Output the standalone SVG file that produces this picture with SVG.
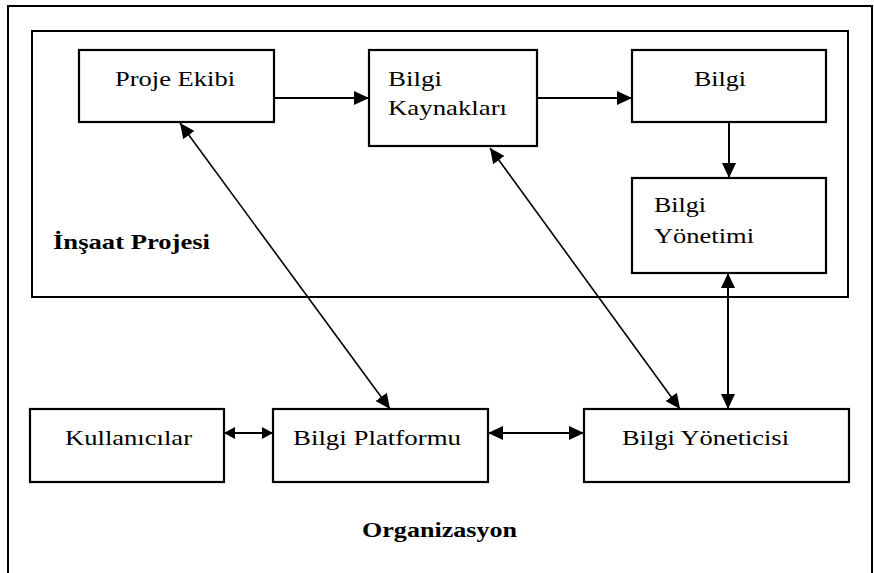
<svg xmlns="http://www.w3.org/2000/svg" width="874" height="573" viewBox="0 0 874 573">
<style>
.frame{fill:none;stroke:#000;stroke-width:2}
.box{fill:#fff;stroke:#000;stroke-width:2.2}
.t{font-family:"Liberation Serif","Times New Roman",serif;font-size:21px;fill:#000}
.b{font-family:"Liberation Serif","Times New Roman",serif;font-size:22px;font-weight:bold;fill:#000}
.c{fill:none;stroke:#000;stroke-width:2}
.d{fill:none;stroke:#000;stroke-width:1.6}
</style>
<defs>
<marker id="ah" markerUnits="userSpaceOnUse" markerWidth="16" markerHeight="14" refX="15" refY="7" orient="auto-start-reverse">
<path d="M0,0 L15,7 L0,14 z" fill="#000"/>
</marker>
<marker id="ahs" markerUnits="userSpaceOnUse" markerWidth="12" markerHeight="12" refX="11" refY="6" orient="auto-start-reverse">
<path d="M0,0 L11,6 L0,12 z" fill="#000"/>
</marker>
</defs>
<rect id="organizasyon-frame" class="frame" x="8" y="6" width="864" height="590"/>
<g id="insaat-projesi">
<rect class="frame" x="32" y="31" width="816" height="266"/>
<text class="b" x="53" y="249" textLength="157" lengthAdjust="spacingAndGlyphs">İnşaat Projesi</text>
</g>
<g id="connectors">
<line class="c" x1="274" y1="98" x2="369" y2="98" marker-end="url(#ah)"/>
<line class="c" x1="537" y1="98" x2="632" y2="98" marker-end="url(#ah)"/>
<line class="c" x1="729" y1="122" x2="729" y2="178" marker-end="url(#ah)"/>
<line class="c" x1="728" y1="273" x2="728" y2="409" marker-start="url(#ah)" marker-end="url(#ah)"/>
<line class="d" x1="180" y1="123" x2="390" y2="409" marker-start="url(#ah)" marker-end="url(#ah)"/>
<line class="d" x1="490" y1="148" x2="680" y2="409" marker-start="url(#ah)" marker-end="url(#ah)"/>
<line class="c" x1="224" y1="433" x2="273" y2="433" marker-start="url(#ahs)" marker-end="url(#ahs)"/>
<line class="c" x1="488" y1="433" x2="584" y2="433" marker-start="url(#ah)" marker-end="url(#ah)"/>
</g>
<g id="proje-ekibi">
<rect class="box" x="79" y="50" width="195" height="72"/>
<text class="t" x="115" y="86" textLength="120" lengthAdjust="spacingAndGlyphs">Proje Ekibi</text>
</g>
<g id="bilgi-kaynaklari">
<rect class="box" x="369" y="50" width="168" height="96"/>
<text class="t" x="388" y="86" textLength="54" lengthAdjust="spacingAndGlyphs">Bilgi</text>
<text class="t" x="388" y="115" textLength="119" lengthAdjust="spacingAndGlyphs">Kaynakları</text>
</g>
<g id="bilgi">
<rect class="box" x="632" y="50" width="194" height="72"/>
<text class="t" x="694" y="86" textLength="52" lengthAdjust="spacingAndGlyphs">Bilgi</text>
</g>
<g id="bilgi-yonetimi">
<rect class="box" x="632" y="178" width="194" height="95"/>
<text class="t" x="654" y="212" textLength="52" lengthAdjust="spacingAndGlyphs">Bilgi</text>
<text class="t" x="654" y="243" textLength="100" lengthAdjust="spacingAndGlyphs">Yönetimi</text>
</g>
<g id="kullanicilar">
<rect class="box" x="30" y="409" width="194" height="73"/>
<text class="t" x="65" y="445" textLength="127" lengthAdjust="spacingAndGlyphs">Kullanıcılar</text>
</g>
<g id="bilgi-platformu">
<rect class="box" x="273" y="409" width="215" height="73"/>
<text class="t" x="293" y="445" textLength="168" lengthAdjust="spacingAndGlyphs">Bilgi Platformu</text>
</g>
<g id="bilgi-yoneticisi">
<rect class="box" x="584" y="409" width="265" height="73"/>
<text class="t" x="622" y="445" textLength="167" lengthAdjust="spacingAndGlyphs">Bilgi Yöneticisi</text>
</g>
<text id="organizasyon-label" class="b" x="362" y="537" textLength="155" lengthAdjust="spacingAndGlyphs">Organizasyon</text>
</svg>
